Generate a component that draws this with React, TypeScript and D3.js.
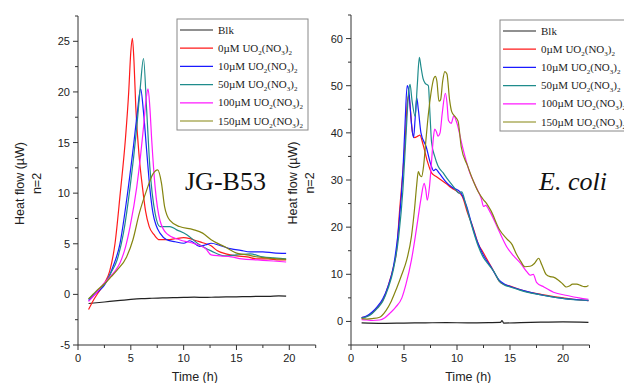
import React from 'react'
import * as d3 from 'd3'

type Pt = [number, number]

// ---- JG-B53 (left panel) ----
const jgBlk: Pt[] = [[1,-0.9],[1.5,-0.85],[2,-0.8],[3,-0.7],[4,-0.6],[5,-0.5],[6,-0.42],[7,-0.38],[8,-0.35],[9,-0.32],[10,-0.3],[11,-0.28],[12,-0.3],[13,-0.27],[14,-0.25],[15,-0.24],[16,-0.22],[17,-0.2],[18,-0.2],[19,-0.15],[19.7,-0.18]]
const jgRed: Pt[] = [[1,-1.5],[1.5,-0.5],[2,0.3],[2.5,1.1],[3,2.3],[3.5,5],[4,10],[4.5,15.5],[4.8,20],[5.0,24],[5.15,25.3],[5.3,23],[5.47,18.5],[5.8,13.5],[6.1,10.6],[6.4,8.2],[6.74,6.7],[7.2,5.9],[7.7,5.4],[8.5,5.4],[9.2,5.5],[10,5.6],[10.6,5.5],[11.2,5.3],[11.8,5.1],[12.6,4.8],[13.2,4.3],[14,4.0],[15,3.8],[16,3.7],[17,3.5],[18,3.5],[19,3.4],[19.7,3.4]]
const jgBlue: Pt[] = [[1,-0.6],[1.7,0.1],[2.5,0.9],[3.3,2.7],[3.97,5.0],[4.6,9.3],[5.2,14.2],[5.6,17.8],[5.93,20.3],[6.2,18],[6.5,14.2],[6.8,10.5],[7.1,8],[7.4,6.8],[7.76,6.05],[8.4,5.4],[9.2,5.2],[10,5.05],[10.6,5.3],[11.5,4.75],[12.1,4.9],[12.6,5.05],[13.5,4.8],[14.5,4.5],[15.4,4.35],[16.3,4.2],[17.5,4.2],[18.5,4.1],[19.7,4.05]]
const jgTeal: Pt[] = [[1,-0.45],[1.7,0.2],[2.56,1.1],[3.1,2.1],[3.7,3.4],[4.3,6.05],[4.93,10.6],[5.56,16.5],[5.9,20.5],[6.2,23.3],[6.5,18.2],[6.8,12.6],[7.3,8],[7.76,6.7],[8.2,6.7],[8.7,6.7],[9.3,6.4],[10.3,5.9],[11.5,4.9],[12.6,4.3],[13.9,3.8],[15,3.9],[16.3,4.0],[17.5,3.7],[18.5,3.6],[19.7,3.5]]
const jgMag: Pt[] = [[1,-0.7],[1.7,0.1],[2.3,0.9],[3.0,1.7],[3.5,2.3],[3.97,3.1],[4.5,4.7],[4.93,6.7],[5.56,10.6],[5.9,13.5],[6.2,16.5],[6.45,19.3],[6.63,20.3],[6.8,18.5],[6.98,15.2],[7.3,10.6],[7.76,7.3],[8.4,6.0],[9.6,5.4],[10.9,5.05],[12.1,4.5],[12.6,3.9],[13.5,3.8],[14.5,3.7],[15.5,3.5],[17,3.4],[18.5,3.3],[19.7,3.2]]
const jgOlive: Pt[] = [[1,-0.45],[1.7,0.3],[2.56,1.1],[3.1,1.7],[3.7,2.4],[4.6,3.7],[5.2,5.4],[5.8,8],[6.5,10.3],[7.1,11.9],[7.54,12.3],[7.9,11.0],[8.2,8.65],[8.7,7.3],[9.6,6.7],[10.9,6.4],[11.8,6.05],[12.6,5.4],[13.9,4.7],[15.1,4.05],[16,3.9],[17,3.7],[18.3,3.55],[19.7,3.45]]

// ---- E. coli (right panel) ----
const ecBlk: Pt[] = [[1,-0.3],[3,-0.4],[5,-0.35],[7,-0.3],[9,-0.25],[11,-0.3],[13,-0.25],[14.1,-0.2],[14.25,0.2],[14.4,-0.35],[16,-0.25],[18,-0.15],[20,-0.1],[22.4,-0.2]]
const ecRed: Pt[] = [[1,0.8],[1.5,1.1],[2,1.8],[2.5,3.0],[3,4.5],[3.5,7.5],[4,11.5],[4.3,15],[4.6,24],[4.9,32],[5.1,38],[5.3,46],[5.45,48],[5.6,45],[5.8,40],[6.0,39],[6.3,39.3],[6.5,39.5],[6.8,37.5],[7.2,34],[7.6,31.5],[8,30.8],[8.5,30],[9,29.2],[9.5,28.3],[10,27.6],[10.5,26.5],[11,23],[11.5,20],[12,16.5],[12.5,14.5],[13,12.5],[13.5,10.5],[14,8.5],[14.5,7.8],[15,7.5],[16,6.7],[17,6.1],[18,5.7],[19,5.3],[20,5.0],[21,4.7],[22.4,4.4]]
const ecBlue: Pt[] = [[1,0.8],[1.5,1.2],[2,2.0],[2.5,3.2],[3,4.8],[3.5,7.5],[4,11.6],[4.5,20],[4.9,32],[5.1,42],[5.3,50],[5.45,49],[5.7,42],[5.9,39],[6.05,43],[6.2,47.4],[6.35,45],[6.6,40],[7.1,37],[7.5,33.5],[7.8,32],[8,32.3],[8.3,31.5],[9,29.5],[9.5,28.5],[10.3,27.5],[10.9,24.5],[11.4,20.5],[11.9,17],[12.5,14],[13.2,11.6],[14,8.7],[14.5,7.9],[15.3,7.2],[16,6.7],[17.2,6.0],[18.5,5.4],[20.3,4.8],[21.5,4.6],[22.4,4.4]]
const ecTeal: Pt[] = [[1,0.7],[1.5,1.0],[2,1.7],[2.5,2.8],[3,4.3],[3.5,7],[4,11],[4.5,18],[4.9,28],[5.2,40],[5.45,49],[5.57,50.3],[5.75,47],[6.05,43.5],[6.25,50],[6.45,56],[6.6,54],[6.8,51.5],[7.0,50.5],[7.3,50],[7.45,44],[7.6,38],[7.9,35],[8.2,33],[8.7,31.5],[9.2,29.9],[9.7,28.5],[10.2,27.2],[10.45,27.5],[10.8,25],[11.3,21],[12,16],[12.5,13.5],[13,12],[13.5,10.5],[14,8.5],[14.5,7.7],[15,7.3],[16,6.6],[17,6.0],[18,5.6],[19,5.2],[20,4.9],[21,4.6],[22.4,4.5]]
const ecMag: Pt[] = [[1,0.4],[1.5,0.3],[2,0.2],[2.7,0.3],[3.2,0.8],[3.7,1.8],[4.2,3.0],[4.8,5.0],[5.2,8],[5.7,13],[6.2,20],[6.6,26],[6.9,29.3],[7.05,28],[7.2,25.7],[7.4,28.5],[7.6,34],[7.77,38.9],[7.9,40.8],[8.05,40.3],[8.2,39.3],[8.4,40],[8.6,44],[8.9,48.4],[9.05,46.5],[9.2,42.6],[9.45,42],[9.7,43.6],[10.0,42],[10.5,37.2],[11.2,31.6],[11.8,28.5],[12.3,26],[12.5,24.4],[12.7,24.6],[13.1,23.3],[14,19],[14.7,15.8],[15.3,14],[16,12.3],[16.6,10.5],[16.9,9.8],[17.2,10],[17.5,8.3],[18.2,7.3],[19.1,6.2],[20.4,5.5],[21.5,5.0],[22.4,4.7]]
const ecOlive: Pt[] = [[1,0.6],[1.5,0.5],[2,0.6],[2.7,0.9],[3.3,2.3],[3.8,4.3],[4.3,7],[4.8,10],[5.25,13],[5.7,18],[6.0,24],[6.2,29],[6.35,31.8],[6.5,31],[6.66,30.7],[6.85,33],[7.05,38],[7.3,44],[7.55,48.5],[7.8,51.5],[7.95,52],[8.1,51],[8.3,46.7],[8.45,47],[8.65,51],[8.85,53],[9.05,52.5],[9.3,47],[9.5,44.5],[9.8,43.5],[10.1,42.5],[10.4,37],[11.0,33],[11.5,30],[12.0,27.5],[12.5,25.8],[12.8,25],[13.2,23.5],[14,19.5],[14.7,17.5],[15.2,16.3],[15.6,14.3],[16,12.8],[16.4,11.6],[16.9,11.7],[17.3,12.3],[17.7,13.4],[18.0,12],[18.4,10],[18.8,9.5],[19.1,9.4],[19.6,8.7],[20.0,7.9],[20.3,7.3],[20.6,7.5],[20.9,7.9],[21.3,7.9],[21.7,7.6],[22.0,7.4],[22.2,7.4],[22.4,7.6]]

const doses = ['Blk', '0µM', '10µM', '50µM', '100µM', '150µM']
const colors = ['#222222', '#ff1a1a', '#1a1aff', '#1f8c8c', '#ff1aff', '#858510']
const xTicks = [0, 5, 10, 15, 20]
const jgYTicks = [-5, 0, 5, 10, 15, 20, 25]
const ecYTicks = [0, 10, 20, 30, 40, 50, 60]

const sans = '"Liberation Sans", Arial, sans-serif'
const serif = '"Liberation Serif", "Times New Roman", serif'

type PanelProps = {
  series: Pt[][]
  xDomain: [number, number]
  yDomain: [number, number]
  xRange: [number, number]
  yRange: [number, number]
  yTicks: number[]
  yMinor: number
  legendX: number
  legendY: number
  legendW: number
  title: string
  italic?: boolean
  titleX: number
}

const LegendLabel = ({ label }: { label: string }) => {
  if (label === 'Blk') return <>{label}</>
  return (
    <>
      {label} UO<tspan dy={3} fontSize={7}>2</tspan>
      <tspan dy={-3}>(NO</tspan><tspan dy={3} fontSize={7}>3</tspan>
      <tspan dy={-3}>)</tspan><tspan dy={3} fontSize={7}>2</tspan>
    </>
  )
}

const Panel = (p: PanelProps) => {
  const x = d3.scaleLinear().domain(p.xDomain).range(p.xRange)
  const y = d3.scaleLinear().domain(p.yDomain).range(p.yRange)
  const line = d3.line<Pt>().x(d => x(d[0])).y(d => y(d[1])).curve(d3.curveMonotoneX)
  const ax = p.xRange[0], ay = p.yRange[0]
  const xMinor = d3.range(p.xDomain[0], p.xDomain[1] + 0.01, 2.5)
  const yMinor = d3.range(p.yDomain[0], p.yDomain[1] + 0.01, p.yMinor)
  const yMid = (p.yRange[0] + p.yRange[1]) / 2

  return (
    <g>
      {p.series.map((s, i) => (
        <path key={i} d={line(s) ?? ''} fill="none" stroke={colors[i]} strokeWidth={1.2} />
      ))}
      <line x1={ax} x2={ax} y1={p.yRange[0]} y2={p.yRange[1]} stroke="#333" />
      <line x1={p.xRange[0]} x2={p.xRange[1]} y1={ay} y2={ay} stroke="#333" />
      {xMinor.map(t => (
        <line key={'xm' + t} x1={x(t)} x2={x(t)} y1={ay} y2={ay + (t % 5 === 0 ? 5 : 3)} stroke="#333" />
      ))}
      {yMinor.map(t => (
        <line key={'ym' + t} x1={ax} x2={ax - (p.yTicks.includes(t) ? 5 : 3)} y1={y(t)} y2={y(t)} stroke="#333" />
      ))}
      {xTicks.map(t => (
        <text key={'xt' + t} x={x(t)} y={ay + 17} textAnchor="middle" fontSize={11} fontFamily={sans} fill="#222">{t}</text>
      ))}
      {p.yTicks.map(t => (
        <text key={'yt' + t} x={ax - 8} y={y(t) + 4} textAnchor="end" fontSize={11} fontFamily={sans} fill="#222">{t}</text>
      ))}
      <text x={(p.xRange[0] + p.xRange[1]) / 2 - 2} y={381} textAnchor="middle" fontSize={12.5} fontFamily={sans} fill="#222">Time (h)</text>
      <g transform={`translate(${ax - 54},${yMid + 3}) rotate(-90)`}>
        <text textAnchor="middle" fontSize={12.5} fontFamily={sans} fill="#222">Heat flow (µW)</text>
      </g>
      <g transform={`translate(${ax - 37},${yMid + 3}) rotate(-90)`}>
        <text textAnchor="middle" fontSize={12.5} fontFamily={sans} fill="#222">n=2</text>
      </g>
      <rect x={p.legendX} y={p.legendY} width={p.legendW} height={111} fill="#fff" stroke="#888" strokeWidth={1} />
      {doses.map((d, i) => {
        const ly = p.legendY + 11 + i * 18.2
        return (
          <g key={d}>
            <line x1={p.legendX + 3} x2={p.legendX + 36} y1={ly} y2={ly} stroke={colors[i]} strokeWidth={1.2} />
            <text x={p.legendX + 41} y={ly + 3.5} fontSize={11} fontFamily={serif} fill="#222">
              <LegendLabel label={d} />
            </text>
          </g>
        )
      })}
      <text x={p.titleX} y={190} fontSize={26} fontFamily={serif} fontStyle={p.italic ? 'italic' : 'normal'} fill="#111">{p.title}</text>
    </g>
  )
}

export default function App() {
  return (
    <svg width={624} height={383} style={{ position: 'absolute', left: 0, top: 0, background: '#fff' }}>
      <Panel
        series={[jgBlk, jgRed, jgBlue, jgTeal, jgMag, jgOlive]}
        xDomain={[0, 22.5]} yDomain={[-5, 27.5]}
        xRange={[78, 315.7]} yRange={[345, 16]}
        yTicks={jgYTicks} yMinor={2.5}
        legendX={177} legendY={19} legendW={131}
        title="JG-B53" titleX={185}
      />
      <Panel
        series={[ecBlk, ecRed, ecBlue, ecTeal, ecMag, ecOlive]}
        xDomain={[0, 22.5]} yDomain={[-5, 65]}
        xRange={[351, 589.5]} yRange={[345, 15]}
        yTicks={ecYTicks} yMinor={5}
        legendX={500} legendY={20} legendW={140}
        title="E. coli" italic titleX={539}
      />
    </svg>
  )
}
